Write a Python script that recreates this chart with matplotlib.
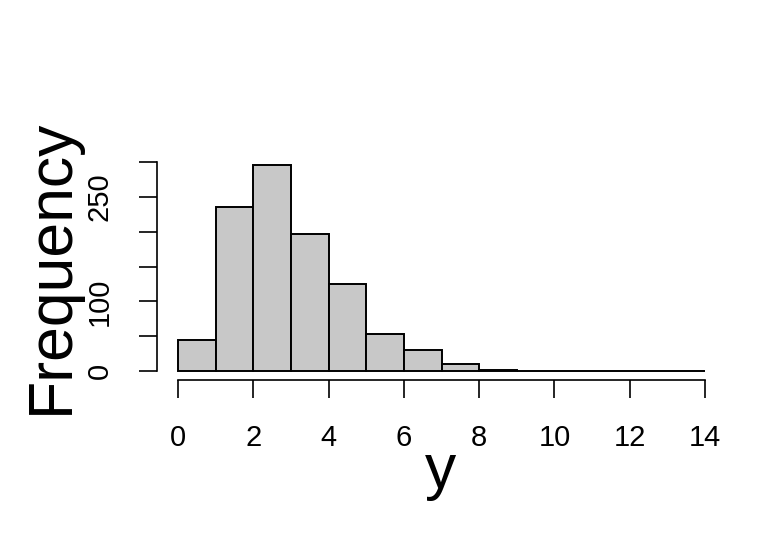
import numpy as np
import matplotlib
matplotlib.use("Agg")
import matplotlib.pyplot as plt

plt.rcParams['font.family'] = ['Liberation Sans', 'DejaVu Sans']

# histogram of y: bin edges and counts per bin
bin_edges = list(range(0, 15))
counts = [45, 235, 296, 197, 125, 54, 31, 11, 2, 1, 1, 0, 0, 1]
x_ticks = [0, 2, 4, 6, 8, 10, 12, 14]
y_ticks = [0, 50, 100, 150, 200, 250, 300]
y_tick_labels = ["0", "", "100", "", "", "250", ""]

W, H = 768, 537
fig = plt.figure(figsize=(W / 100, H / 100), dpi=100)
ax = fig.add_axes([157 / W, (H - 379.5) / H, (726 - 157) / W, (379.5 - 156.4) / H])

ax.bar(bin_edges[:-1], counts, width=1, align='edge',
       color='#c8c8c8', edgecolor='black', linewidth=1.4)

# R style limits (4% extension)
xr = bin_edges[-1] - bin_edges[0]
ax.set_xlim(bin_edges[0] - 0.04 * xr, bin_edges[-1] + 0.04 * xr)
ax.set_ylim(-0.04 * max(counts), max(counts) * 1.04)

for s in ['top', 'right']:
    ax.spines[s].set_visible(False)
ax.spines['left'].set_bounds(y_ticks[0], y_ticks[-1])
ax.spines['bottom'].set_bounds(x_ticks[0], x_ticks[-1])
for s in ['left', 'bottom']:
    ax.spines[s].set_linewidth(1.2)

ax.set_xticks(x_ticks)
ax.set_xticklabels([str(v) for v in x_ticks])
ax.set_yticks(y_ticks)
ax.set_yticklabels(y_tick_labels, rotation=90, va='center')
ax.tick_params(axis='x', length=13, width=1.2, pad=19, labelsize=21)
ax.tick_params(axis='y', length=13, width=1.2, pad=18, labelsize=21)

fig.text(441 / W, (H - 488) / H, 'y', ha='center', va='baseline', fontsize=45)
fig.text(68 / W, (H - 266) / H, 'Frequency', rotation=90, rotation_mode='anchor',
         ha='center', va='baseline', fontsize=45)

fig.savefig('out.png', dpi=100)
